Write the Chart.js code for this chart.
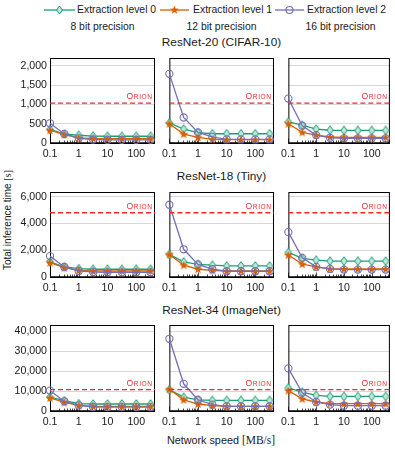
<!DOCTYPE html>
<html>
<head>
<meta charset="utf-8">
<script src="https://cdn.jsdelivr.net/npm/chart.js@4.4.0/dist/chart.umd.min.js"></script>
<style>
body { margin: 0; background: #fff; width: 395px; height: 452px; position: relative; overflow: hidden;
       font-family: "Liberation Sans", Arial, sans-serif; color: #1a1a1a; }
.t { position: absolute; white-space: nowrap; transform: translate(-50%, -50%); }
.leg { position: absolute; white-space: nowrap; font-size: 10.4px; top: 4px; }
canvas { position: absolute; }
svg { position: absolute; }
</style>
</head>
<body>

<!-- legenda -->
<svg style="left:43px;top:5px" width="34" height="10"><line x1="1" y1="5" x2="32" y2="5" stroke="#1b9e77" stroke-width="1.3"/><path d="M16.5 1 L19.5 5 L16.5 9 L13.5 5 Z" fill="#bfe6d9" stroke="#1b9e77" stroke-width="1"/></svg>
<span class="leg" style="left:77px">Extraction level 0</span>
<svg style="left:159px;top:5px" width="34" height="10"><line x1="1" y1="5" x2="30" y2="5" stroke="#d95f02" stroke-width="1.3"/><path d="M15.5 0.6 L16.6 3.6 L19.8 3.7 L17.3 5.7 L18.2 8.8 L15.5 7 L12.8 8.8 L13.7 5.7 L11.2 3.7 L14.4 3.6 Z" fill="#d95f02"/></svg>
<span class="leg" style="left:193px">Extraction level 1</span>
<svg style="left:274px;top:5px" width="34" height="10"><line x1="1" y1="5" x2="30" y2="5" stroke="#7570b3" stroke-width="1.3"/><circle cx="15.5" cy="5" r="3.5" fill="none" stroke="#7570b3" stroke-width="1.2"/></svg>
<span class="leg" style="left:307px">Extraction level 2</span>

<div id="textos"></div>

<script>
// eixo x (velocidade da rede, MB/s) e rotulos
var velocidades = [0.1, 0.316, 1, 3.16, 10, 31.6, 100, 316];
var rotulosX = [0.1, 1, 10, 100];
var niveis = ['Extraction level 0', 'Extraction level 1', 'Extraction level 2'];
var precisoes = ['8 bit precision', '12 bit precision', '16 bit precision'];
var redes = ['ResNet-20 (CIFAR-10)', 'ResNet-18 (Tiny)', 'ResNet-34 (ImageNet)'];

// linha do Orion e eixo y de cada linha
var orion = [1030, 4800, 10700];
var yMaximo = [2200, 6350, 43000];
var ticksY20 = [0, 500, 1000, 1500, 2000];
var ticksY18 = [0, 2000, 4000, 6000];
var ticksY34 = [0, 10000, 20000, 30000, 40000];
var xMaximo = 450;

// ResNet-20 (CIFAR-10)
var r20_8_n0 = [350, 230, 200, 180, 175, 175, 175, 175];
var r20_8_n1 = [330, 220, 130, 115, 110, 110, 110, 110];
var r20_8_n2 = [510, 235, 120, 90, 80, 80, 80, 80];
var r20_12_n0 = [520, 360, 270, 240, 240, 240, 240, 240];
var r20_12_n1 = [500, 230, 145, 95, 85, 85, 85, 85];
var r20_12_n2 = [1790, 660, 275, 160, 95, 95, 95, 95];
var r20_16_n0 = [545, 460, 360, 330, 325, 325, 325, 325];
var r20_16_n1 = [500, 275, 205, 155, 145, 145, 145, 145];
var r20_16_n2 = [1150, 445, 205, 135, 120, 120, 120, 120];

// ResNet-18 (Tiny)
var r18_8_n0 = [1130, 760, 630, 580, 580, 580, 580, 580];
var r18_8_n1 = [1080, 700, 500, 450, 450, 450, 450, 450];
var r18_8_n2 = [1560, 750, 450, 370, 350, 350, 350, 350];
var r18_12_n0 = [1690, 1130, 940, 880, 830, 830, 830, 830];
var r18_12_n1 = [1690, 880, 580, 500, 450, 450, 450, 450];
var r18_12_n2 = [5400, 2070, 940, 580, 430, 430, 430, 430];
var r18_16_n0 = [1840, 1390, 1260, 1190, 1185, 1185, 1185, 1185];
var r18_16_n1 = [1640, 960, 760, 610, 600, 600, 600, 600];
var r18_16_n2 = [3350, 1430, 760, 600, 555, 555, 555, 555];

// ResNet-34 (ImageNet)
var r34_8_n0 = [6900, 5200, 3700, 3500, 3500, 3500, 3500, 3500];
var r34_8_n1 = [6600, 4300, 2800, 2300, 2300, 2300, 2300, 2300];
var r34_8_n2 = [10200, 4800, 2800, 2000, 1950, 1950, 1950, 1950];
var r34_12_n0 = [10600, 6900, 5600, 5300, 5300, 5300, 5300, 5300];
var r34_12_n1 = [10900, 5600, 3500, 2650, 2330, 2330, 2330, 2330];
var r34_12_n2 = [36100, 13600, 5600, 3200, 2350, 2350, 2350, 2350];
var r34_16_n0 = [11600, 9400, 7800, 7300, 7300, 7300, 7300, 7300];
var r34_16_n1 = [10200, 6100, 4500, 3700, 3650, 3650, 3650, 3650];
var r34_16_n2 = [21300, 9100, 4500, 3200, 2650, 2650, 2650, 2650];

var series = [
    [[r20_8_n0, r20_8_n1, r20_8_n2], [r20_12_n0, r20_12_n1, r20_12_n2], [r20_16_n0, r20_16_n1, r20_16_n2]],
    [[r18_8_n0, r18_8_n1, r18_8_n2], [r18_12_n0, r18_12_n1, r18_12_n2], [r18_16_n0, r18_16_n1, r18_16_n2]],
    [[r34_8_n0, r34_8_n1, r34_8_n2], [r34_12_n0, r34_12_n1, r34_12_n2], [r34_16_n0, r34_16_n1, r34_16_n2]]
];
var ticksY = [ticksY20, ticksY18, ticksY34];

var cores = ['#1b9e77', '#d95f02', '#7570b3'];
var vermelho = '#ee2a2a';

// posicoes dos paineis
var colEsq = [50, 169, 288];
var larg = 105;
var linTopo = [58, 192, 325];
var alt = [85, 85, 86];

// marcadores
function criarLosango() {
    var c = document.createElement('canvas');
    c.width = 8; c.height = 10;
    var g = c.getContext('2d');
    g.beginPath();
    g.moveTo(4, 0.7); g.lineTo(7.2, 5); g.lineTo(4, 9.3); g.lineTo(0.8, 5); g.closePath();
    g.fillStyle = '#bfe6d9'; g.fill();
    g.strokeStyle = cores[0]; g.lineWidth = 1; g.stroke();
    return c;
}
function criarEstrela() {
    var c = document.createElement('canvas');
    c.width = 10; c.height = 10;
    var g = c.getContext('2d');
    g.beginPath();
    for (var i = 0; i < 10; i++) {
        var r = i % 2 == 0 ? 4.8 : 2;
        var ang = -Math.PI / 2 + i * Math.PI / 5;
        g.lineTo(5 + r * Math.cos(ang), 5.3 + r * Math.sin(ang));
    }
    g.closePath();
    g.fillStyle = cores[1]; g.fill();
    return c;
}
var losango = criarLosango();
var estrela = criarEstrela();

// marcas do eixo x (maiores e menores)
var marcasX = [];
[0.1, 1, 10, 100].forEach(function (d) {
    for (var m = 1; m <= 9; m++) {
        if (d * m <= xMaximo) marcasX.push(d * m);
    }
});

var moldura = {
    id: 'moldura',
    beforeDatasetsDraw: function (chart) {
        var ctx = chart.ctx, a = chart.chartArea, x = chart.scales.x;
        ctx.save();
        ctx.strokeStyle = '#000';
        ctx.lineWidth = 0.7;
        marcasX.forEach(function (v) {
            var px = Math.round(x.getPixelForValue(v)) + 0.5;
            var len = rotulosX.indexOf(v) >= 0 ? 4.5 : 2.5;
            ctx.beginPath();
            ctx.moveTo(px, a.bottom);
            ctx.lineTo(px, a.bottom - len);
            ctx.stroke();
        });
        ctx.lineWidth = 1;
        ctx.strokeRect(a.left + 0.5, a.top + 0.5, a.right - a.left - 1, a.bottom - a.top);
        ctx.lineWidth = 1.4;
        ctx.beginPath();
        ctx.moveTo(a.left, a.bottom);
        ctx.lineTo(a.right, a.bottom);
        ctx.stroke();

        // rotulo Orion em versalete
        var yy = chart.scales.y.getPixelForValue(chart.options.plugins.moldura.orion) - 4;
        ctx.fillStyle = vermelho;
        ctx.textBaseline = 'alphabetic';
        ctx.textAlign = 'right';
        ctx.font = '6.6px "Liberation Sans", Arial';
        var dir = a.right - 3;
        var resto = 'R I O N'.replace(/ /g, '\u200a');
        ctx.fillText(resto, dir, yy);
        var w = ctx.measureText(resto).width;
        ctx.font = '8.6px "Liberation Sans", Arial';
        ctx.fillText('O', dir - w - 0.6, yy);
        ctx.restore();
    }
};

function montarPainel(lin, col) {
    var padL = col == 0 ? 50 : 12;
    var padT = 10;
    var padR = col == 2 ? 2 : 8;
    var padB = 24;
    var cv = document.createElement('canvas');
    var w = padL + larg + padR, h = padT + alt[lin] + padB;
    cv.width = w; cv.height = h;
    cv.style.left = (colEsq[col] - padL) + 'px';
    cv.style.top = (linTopo[lin] - padT) + 'px';
    cv.style.width = w + 'px';
    cv.style.height = h + 'px';
    document.body.appendChild(cv);

    var datasets = [];
    datasets.push({
        label: 'Orion',
        data: [{ x: 0.1, y: orion[lin] }, { x: xMaximo, y: orion[lin] }],
        borderColor: vermelho,
        borderWidth: 1.3,
        borderDash: [5, 3],
        pointRadius: 0,
        clip: false
    });
    var estilos = [losango, estrela, 'circle'];
    for (var n = 2; n >= 0; n--) {
        var valores = series[lin][col][n];
        datasets.push({
            label: niveis[n],
            data: valores.map(function (v, i) { return { x: velocidades[i], y: v }; }),
            borderColor: cores[n],
            backgroundColor: n == 2 ? 'rgba(255,255,255,0)' : cores[n],
            borderWidth: 1.3,
            pointStyle: estilos[n],
            pointRadius: n == 2 ? 3.6 : 4,
            pointBorderWidth: 1.1,
            pointBorderColor: cores[n],
            pointBackgroundColor: n == 2 ? 'rgba(255,255,255,0)' : cores[n],
            clip: false
        });
    }

    new Chart(cv, {
        type: 'line',
        data: { datasets: datasets },
        options: {
            responsive: false,
            animation: false,
            devicePixelRatio: 1,
            layout: { padding: { top: padT, right: padR, left: 0, bottom: 0 } },
            plugins: {
                legend: { display: false },
                tooltip: { enabled: false },
                moldura: { orion: orion[lin] }
            },
            scales: {
                x: {
                    type: 'logarithmic',
                    min: 0.1,
                    max: xMaximo,
                    afterBuildTicks: function (s) {
                        s.ticks = marcasX.map(function (v) { return { value: v }; });
                    },
                    afterFit: function (s) { s.height = padB; },
                    grid: { display: false, drawTicks: false },
                    border: { display: false },
                    ticks: {
                        autoSkip: false,
                        maxRotation: 0,
                        padding: 5,
                        color: '#1a1a1a',
                        font: { family: '"Liberation Sans", Arial', size: 10.6 },
                        callback: function (v) { return rotulosX.indexOf(v) >= 0 ? String(v) : ''; }
                    }
                },
                y: {
                    type: 'linear',
                    min: 0,
                    max: yMaximo[lin],
                    afterBuildTicks: function (s) {
                        s.ticks = ticksY[lin].map(function (v) { return { value: v }; });
                    },
                    afterFit: function (s) { s.width = padL; },
                    grid: { color: '#d4d4d4', lineWidth: 0.9, drawTicks: false },
                    border: { display: false },
                    ticks: {
                        display: col == 0,
                        autoSkip: false,
                        padding: 3,
                        color: '#1a1a1a',
                        font: { family: '"Liberation Sans", Arial', size: 10.6 },
                        callback: function (v) { return Number(v).toLocaleString('en-US'); }
                    }
                }
            }
        },
        plugins: [moldura]
    });
}

for (var i = 0; i < 3; i++) {
    for (var j = 0; j < 3; j++) {
        montarPainel(i, j);
    }
}

// textos: titulos, precisoes, eixos
var textos = document.getElementById('textos');
function texto(s, x, y, estilo) {
    var el = document.createElement('div');
    el.className = 't';
    el.innerHTML = s;
    el.style.left = x + 'px';
    el.style.top = y + 'px';
    el.style.cssText += estilo || '';
    textos.appendChild(el);
}
var colCentro = [102.5, 221.5, 340.5];
precisoes.forEach(function (p, k) { texto(p, colCentro[k], 26, 'font-size:10.4px'); });
var tituloY = [42, 176, 309.5];
redes.forEach(function (r, k) { texto(r, 221.5, tituloY[k], 'font-size:11.8px'); });
texto('Network speed <span style="font-family:\'Liberation Serif\',serif;font-size:11.5px">[MB/s]</span>', 221, 440, 'font-size:10.8px');
texto('Total inference time <span style="font-family:\'Liberation Serif\',serif">[s]</span>', 7, 220, 'font-size:10px;transform:translate(-50%,-50%) rotate(-90deg)');
</script>
</body>
</html>
